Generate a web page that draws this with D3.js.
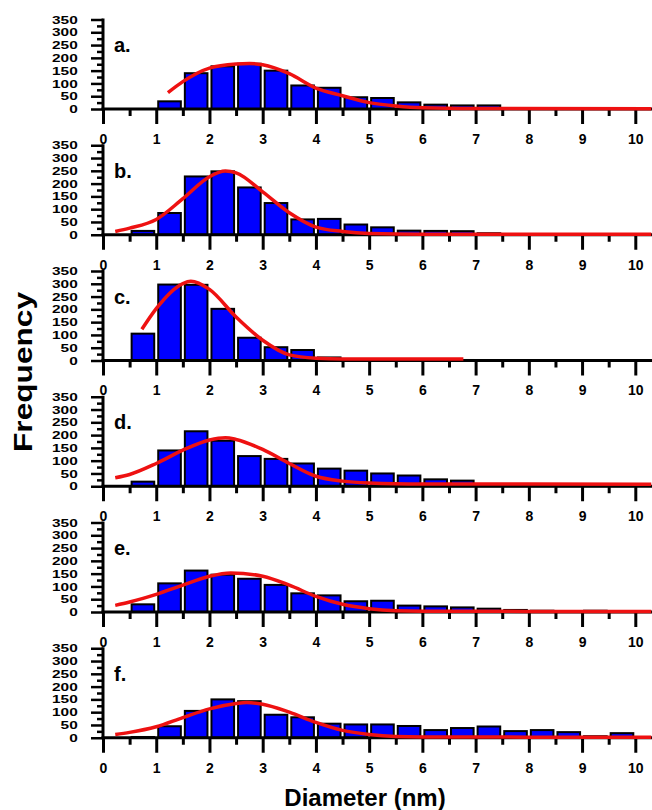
<!DOCTYPE html>
<html>
<head>
<meta charset="utf-8">
<script src="https://cdn.jsdelivr.net/npm/d3@7"></script>
<style>
    body { margin: 0; background: #fff; }
    svg text { font-family: Arial, "Liberation Sans", sans-serif; font-weight: bold; fill: #000; }
</style>
</head>
<body>
<div class="chart"></div>
<script>
//Histogram counts per 0.5 nm bin, starting at 0 nm (0-0.5, 0.5-1.0, ...)
const binWidth = 0.5;
const countsA = [0, 0, 30, 140, 167, 177, 150, 92, 83, 46, 43, 26, 17, 14, 14, 3, 2, 2, 1, 1, 0];
const countsB = [0, 15, 85, 228, 248, 185, 124, 60, 62, 40, 29, 16, 15, 14, 6, 2, 1, 1, 1, 0, 0];
const countsC = [0, 105, 297, 296, 202, 89, 52, 41, 12, 5, 4, 4, 3, 2, 0, 0, 0, 0, 0, 0, 0];
const countsD = [0, 18, 140, 215, 178, 118, 107, 89, 69, 61, 50, 42, 27, 22, 8, 6, 5, 4, 4, 3, 0];
const countsE = [0, 30, 112, 162, 146, 130, 106, 73, 65, 42, 44, 25, 22, 18, 13, 8, 5, 3, 5, 3, 0];
const countsF = [0, 3, 45, 105, 150, 143, 90, 80, 55, 52, 52, 46, 30, 38, 44, 26, 30, 22, 6, 18, 0];

//Fitted curves as [diameter, frequency]
const fitA = [[1.22, 64], [1.5, 107], [2.0, 160], [2.5, 176], [2.75, 178], [3.0, 173], [3.5, 138], [4.0, 82], [4.5, 52], [5.0, 25], [5.5, 12], [6.0, 5], [7.0, 2], [10.3, 1]];
const fitB = [[0.23, 13], [0.5, 26], [1.0, 60], [1.5, 141], [2.0, 227], [2.3, 249], [2.5, 242], [3.0, 168], [3.5, 86], [4.0, 30], [4.5, 13], [5.0, 5], [6.0, 2], [10.3, 2]];
const fitC = [[0.73, 122], [1.0, 203], [1.5, 301], [1.65, 310], [2.0, 278], [2.5, 170], [3.0, 79], [3.5, 22], [4.0, 9], [4.5, 6], [6.77, 6]];
const fitD = [[0.23, 33], [0.5, 46], [1.0, 89], [1.5, 141], [2.0, 181], [2.3, 190], [2.5, 183], [3.0, 144], [3.5, 89], [4.0, 39], [4.5, 20], [5.0, 13], [6.0, 9], [10.3, 8]];
const fitE = [[0.23, 26], [0.5, 39], [1.0, 69], [1.5, 105], [2.0, 140], [2.4, 153], [3.0, 140], [3.5, 105], [4.0, 61], [4.5, 30], [5.0, 13], [5.5, 5], [6.0, 3], [10.3, 2]];
const fitF = [[0.23, 13], [0.5, 21], [1.0, 43], [1.5, 79], [2.0, 113], [2.5, 134], [2.7, 138], [3.0, 131], [3.5, 100], [4.0, 60], [4.5, 29], [5.0, 13], [5.5, 5], [6.0, 3], [10.3, 2]];

const panelLabels = ["a.", "b.", "c.", "d.", "e.", "f."];
const xTicks = [0, 1, 2, 3, 4, 5, 6, 7, 8, 9, 10];
const yTicks = [0, 50, 100, 150, 200, 250, 300, 350];

const panels = [
    {label: panelLabels[0], counts: countsA, fit: fitA},
    {label: panelLabels[1], counts: countsB, fit: fitB},
    {label: panelLabels[2], counts: countsC, fit: fitC},
    {label: panelLabels[3], counts: countsD, fit: fitD},
    {label: panelLabels[4], counts: countsE, fit: fitE},
    {label: panelLabels[5], counts: countsF, fit: fitF}
];

let chart = {
    width: 652,
    height: 810,
    firstBase: 109,
    step: 125.75,
    plotH: 89.5
};

chart.svg = d3.select(".chart").append("svg")
    .attr("width", chart.width)
    .attr("height", chart.height);

chart.x = d3.scaleLinear().domain([0, 10]).range([103, 635.3]);

panels.forEach((p, i) => drawPanel(p, i));

//Axis titles
chart.svg.append("text")
    .attr("transform", "translate(32,372) rotate(-90)")
    .attr("text-anchor", "middle")
    .attr("textLength", 160)
    .attr("lengthAdjust", "spacingAndGlyphs")
    .style("font-size", "26px")
    .text("Frequency");

chart.svg.append("text")
    .attr("x", 365)
    .attr("y", 806)
    .attr("text-anchor", "middle")
    .style("font-size", "24px")
    .text("Diameter (nm)");


function drawPanel(p, i) {
    let x = chart.x;
    let base = chart.firstBase + i * chart.step;
    let y = d3.scaleLinear().domain([0, 350]).range([base, base - chart.plotH]);

    let g = chart.svg.append("g").attr("class", "panel");

    //bars
    let bw = x(binWidth) - x(0);
    g.selectAll("rect.bar")
        .data(p.counts.map((v, k) => ({start: k * binWidth, v: v})).filter(d => d.v > 0))
        .enter().append("rect")
        .attr("class", "bar")
        .attr("x", d => x(d.start) + 2)
        .attr("width", bw - 4)
        .attr("y", d => y(d.v))
        .attr("height", d => base - y(d.v))
        .style("fill", "#0000ff")
        .style("stroke", "#000")
        .style("stroke-width", 2);

    //x axis: major + minor ticks, line runs to the page edge
    let xMajor = g.append("g")
        .attr("transform", `translate(0,${base})`)
        .call(d3.axisBottom(x).tickValues(xTicks).tickSize(15).tickPadding(10).tickFormat(d3.format("d")));
    let xMinor = g.append("g")
        .attr("transform", `translate(0,${base})`)
        .call(d3.axisBottom(x).tickValues(xTicks.slice(0, -1).map(t => t + 0.5)).tickSize(7).tickFormat(""));
    [xMajor, xMinor].forEach(a => {
        a.select(".domain").remove();
        a.selectAll("line").style("stroke", "#000").style("stroke-width", 3);
    });
    xMajor.selectAll("text").style("font-size", "14px");

    g.append("line")
        .attr("x1", x(0) - 1.5).attr("x2", chart.width)
        .attr("y1", base).attr("y2", base)
        .style("stroke", "#000").style("stroke-width", 3);

    //y axis, labels packed tight like the original
    let yMajor = g.append("g")
        .attr("transform", `translate(${x(0)},0)`)
        .call(d3.axisLeft(y).tickValues(yTicks).tickSize(12).tickPadding(11));
    let yMinor = g.append("g")
        .attr("transform", `translate(${x(0)},0)`)
        .call(d3.axisLeft(y).tickValues(yTicks.slice(0, -1).map(t => t + 25)).tickSize(6).tickFormat(""));
    [yMajor, yMinor].forEach(a => {
        a.select(".domain").remove();
        a.selectAll("line").style("stroke", "#000").style("stroke-width", 2.5);
    });
    yMajor.selectAll("text")
        .style("font-size", "14px")
        .attr("transform", "scale(1.1,0.8)");

    g.append("line")
        .attr("x1", x(0)).attr("x2", x(0))
        .attr("y1", y(350) - 1).attr("y2", base)
        .style("stroke", "#000").style("stroke-width", 3);

    //fit curve
    let line = d3.line()
        .x(d => x(d[0]))
        .y(d => y(d[1]))
        .curve(d3.curveMonotoneX);

    g.append("path")
        .datum(p.fit)
        .attr("d", line)
        .style("fill", "none")
        .style("stroke", "#ee1111")
        .style("stroke-width", 3.5);

    //panel letter
    g.append("text")
        .attr("x", 114)
        .attr("y", base - 57)
        .style("font-size", "20px")
        .text(p.label);
}
</script>
</body>
</html>
